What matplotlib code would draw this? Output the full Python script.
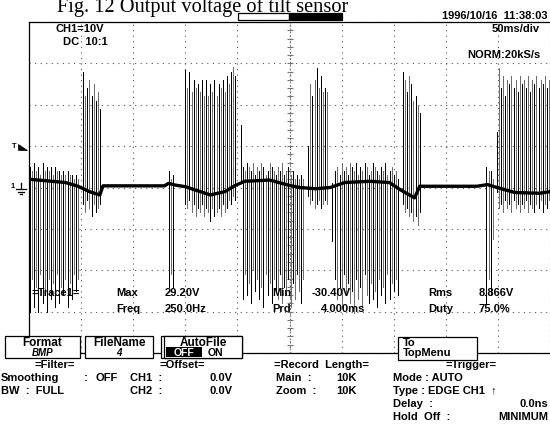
import numpy as np
import matplotlib
matplotlib.use("Agg")
import matplotlib.pyplot as plt
from matplotlib.patches import Rectangle, Polygon
from matplotlib.lines import Line2D

W, H = 550, 434

# trace baseline (ms, V)
base_t = [0, 35, 47, 58, 68, 71, 130, 134, 140, 150, 174, 188, 198, 207, 231,
          250, 260, 275, 289, 303, 327, 346, 356, 370, 375, 430, 440, 449,
          466, 490, 500]
base_v = [2.0, 1.2, 0.3, -1.0, -1.8, 0.4, 0.4, 1.0, 0.6, 0.2, -1.8, -1.0, 0.5,
          1.5, 1.8, 0.5, 0.0, -0.3, 0.0, 1.2, 1.5, 1.2, -0.5, -2.5, 0.3, 0.3,
          0.7, 0.0, -1.2, -1.4, -1.0]

# pulse bursts: start (ms), far end of each pulse line (V), near end (V)
a_start = 1
a_peak = [-30, -22, -29, -24, -30, -21, -28, -25, -30, -22, -27, -23, -29, -21,
          -28, -24, -26, -22, -29, -23, -27, -21, -25, -22]
a_tail = [5, 4, 6, 4, 5, 3, 6, 4, 5, 4, 5, 3, 5, 4, 4, 3, 4, 3, 4, 3, 3, 2, 3, 2]

b_start = 52
b_peak = [28, 22, 24, 26, 22, 25, 21, 23, 19]
b_tail = [-4, -6, -3, -5, -7, -4, -6, -5, -4]

c0_start = 134
c0_peak = [-24, -21, -24]
c0_tail = [4, 2, 3]

c_start = 150
c_peak = [28.5, 24, 28, 23, 26, 24, 25, 23, 26, 22, 26, 22, 25, 23, 26, 22, 25,
          24, 26, 23, 27, 25, 28, 29.2, 27]
c_tail = [-4, -5, -3, -6, -4, -7, -5, -6, -4, -7, -5, -6, -8, -5, -7, -6, -5,
          -7, -4, -6, -5, -3, -4, -2, -3]

c2_start = 203
c2_peak = [15]
c2_tail = [1]

d_start = 205
d_peak = [-27, -21, -26, -23, -28, -20, -25, -22, -27, -24, -29, -21, -26, -23,
          -28, -22, -25, -27, -21, -28, -24, -26, -22, -29, -23, -27, -21, -25,
          -28, -22]
d_tail = [5, 4, 6, 5, 4, 6, 3, 5, 4, 6, 5, 3, 4, 6, 5, 4, 3, 5, 4, 6, 3, 4, 5,
          3, 4, 2, 3, 2, 3, 2]

e_start = 268
e_peak = [10, 25, 22, 26, 29, 24, 27, 23, 24, 23]
e_tail = [-2, -4, -3, -5, -4, -3, -5, -4, -3, -4]

e2_start = 291
e2_peak = [-13]
e2_tail = [1]

f_start = 294
f_peak = [-22, -27, -24, -29, -21, -26, -23, -28, -25, -30.4, -22, -27, -24,
          -29, -21, -26, -28, -23, -27, -25, -29, -22, -26, -24, -28, -21, -27,
          -23, -25, -22, -26]
f_tail = [4, 5, 3, 6, 4, 5, 3, 6, 5, 4, 6, 3, 5, 4, 6, 5, 3, 4, 6, 5, 4, 3, 5,
          4, 6, 3, 4, 5, 3, 4, 2]

g_start = 359
g_peak = [28, 26, 23, 27, 25, 21, 22, 20, 18]
g_tail = [-4, -6, -5, -7, -6, -8, -7, -9, -6]

h_start = 439
h_peak = [-28, -22, -26, -12.5]
h_tail = [5, 4, 4, 2]

i_start = 449
i_peak = [13.5, 29, 24, 27, 22, 26, 25, 27, 24, 26, 23, 27, 25, 26, 24, 27, 23,
          26, 25, 27, 24, 26, 25, 27, 24, 26]
i_tail = [-1, -5, -4, -6, -3, -5, -4, -6, -3, -5, -4, -6, -4, -5, -3, -6, -4,
          -5, -6, -4, -5, -3, -6, -4, -5, -3]

step = 2.0  # ms between pulse edges (Prd 4.000ms)

plt.rcParams['font.family'] = ['Liberation Sans', 'DejaVu Sans']
plt.rcParams['font.weight'] = 'bold'

fig = plt.figure(figsize=(W / 100, H / 100), dpi=100)
fig.patch.set_facecolor('white')


def fx(x):
    return x / W


def fy(y):
    return 1 - y / H


def label(x, y, s, size=8, **kw):
    kw.setdefault('va', 'center')
    return fig.text(fx(x), fy(y), s, fontsize=size, **kw)


def box(x0, y0, x1, y1, fc='white', lw=0.9):
    fig.add_artist(Rectangle((fx(x0), fy(y1)), (x1 - x0) / W, (y1 - y0) / H,
                             transform=fig.transFigure, fc=fc, ec='black', lw=lw))


def seg(xs, ys, lw=0.9):
    fig.add_artist(Line2D([fx(v) for v in xs], [fy(v) for v in ys],
                          transform=fig.transFigure, color='black', lw=lw))


# scope screen: 10 x 8 divisions
ax = fig.add_axes([fx(29), fy(353), (550 - 29) / W, (353 - 22) / H])
ax.set_xlim(0, 500)
ax.set_ylim(-40, 40)
ax.set_xticks(np.arange(0, 501, 50))
ax.set_yticks(np.arange(-40, 41, 10))
ax.tick_params(length=0, labelbottom=False, labelleft=False)
ax.grid(color='#555555', linestyle=(0, (1, 4)), lw=0.8)
for s in ['left', 'top', 'bottom']:
    ax.spines[s].set_linewidth(0.9)
ax.spines['right'].set_visible(False)

# center cross with minor ticks
ax.axvline(250, color='#777777', linestyle=(0, (1.5, 1.5)), lw=0.8)
yt = np.arange(-40, 41, 2)
ax.plot(np.full(len(yt), 250), yt, ls='none', marker='_', ms=5, mew=0.8,
        color='#777777')

bursts = [(a_start, a_peak, a_tail), (b_start, b_peak, b_tail),
          (c0_start, c0_peak, c0_tail), (c_start, c_peak, c_tail),
          (c2_start, c2_peak, c2_tail), (d_start, d_peak, d_tail),
          (e_start, e_peak, e_tail), (e2_start, e2_peak, e2_tail),
          (f_start, f_peak, f_tail), (g_start, g_peak, g_tail),
          (h_start, h_peak, h_tail), (i_start, i_peak, i_tail)]

for start, peak, tail in bursts:
    t = start + step * np.arange(len(peak))
    cols = ['black' if k % 2 == 0 else '#6e6e6e' for k in range(len(peak))]
    ax.vlines(t, tail, peak, colors=cols, lw=0.72, antialiased=False)

ax.plot(base_t, base_v, color='black', lw=2.4, solid_joinstyle='round')

# title (cropped at the top edge)
fig.text(fx(57), fy(12), "Fig. 12 Output voltage of tilt sensor",
         family='Liberation Serif', weight='normal', fontsize=14.7, va='baseline')

# memory bar and timestamp
box(238, 13, 289, 20)
box(289, 13, 342, 20, fc='black')
label(547, 16, "1996/10/16  11:38:03", ha='right')

# screen annotations
label(55, 29, "CH1=10V")
label(63, 42, "DC  10:1")
label(540, 29, "50ms/div", ha='right')
label(540, 55, "NORM:20kS/s", ha='right')

# trigger level and ground markers
label(12, 147, "T", size=5.5)
fig.add_artist(Polygon([(fx(18), fy(144)), (fx(18), fy(150)), (fx(27), fy(150))],
                       closed=True, transform=fig.transFigure, fc='black', ec='black', lw=0.5))
label(11, 187, "1", size=5.5)
seg([21, 21], [183, 189])
seg([16, 26], [189, 189])
seg([18, 24], [191.5, 191.5])
seg([20, 22], [194, 194])

row1, row2 = 293, 309
label(31, row1, "=Trace1=")
label(116, row1, "Max")
label(165, row1, "29.20V")
label(272, row1, "Min")
label(312, row1, "-30.40V")
label(428, row1, "Rms")
label(479, row1, "8.866V")
label(116, row2, "Freq")
label(165, row2, "250.0Hz")
label(272, row2, "Prd")
label(321, row2, "4.000ms")
label(428, row2, "Duty")
label(479, row2, "75.0%")

# soft keys
ky0, ky1 = 336, 358
box(5, ky0, 80, ky1)
label(42.5, 342.5, "Format", size=8.5, ha='center')
label(42.5, 352.5, "BMP", size=7, ha='center', style='italic')
box(85, ky0, 153, ky1)
label(119, 342.5, "FileName", size=8.5, ha='center')
label(119, 352.5, "4", size=7, ha='center', style='italic')
box(161, ky0, 242, ky1)
box(163.5, ky0, 242, ky1)
label(203, 342.5, "AutoFile", size=8.5, ha='center')
box(166, 347, 202, 357, fc='black', lw=0)
label(184, 352.5, "OFF", size=7.5, ha='center', color='white')
label(208, 352.5, "ON", size=7.5)
box(398, 337, 477, 360)
label(403, 343, "To", size=8)
label(403, 353.5, "TopMenu", size=8)

# settings panel
rows = [365, 378, 391, 404, 417]
label(55, rows[0], "=Filter=", ha='center')
label(182, rows[0], "=Offset=", ha='center')
label(322, rows[0], "=Record  Length=", ha='center')
label(471, rows[0], "=Trigger=", ha='center')

label(1, rows[1], "Smoothing")
label(84, rows[1], ":")
label(95, rows[1], "OFF")
label(130, rows[1], "CH1  :")
label(232, rows[1], "0.0V", ha='right')
label(276, rows[1], "Main  :")
label(357, rows[1], "10K", ha='right')
label(393, rows[1], "Mode : AUTO")

label(1, rows[2], "BW  :  FULL")
label(130, rows[2], "CH2  :")
label(232, rows[2], "0.0V", ha='right')
label(276, rows[2], "Zoom  :")
label(357, rows[2], "10K", ha='right')
label(393, rows[2], "Type : EDGE CH1  \u2191")

label(393, rows[3], "Delay  :")
label(548, rows[3], "0.0ns", ha='right')
label(393, rows[4], "Hold  Off  :")
label(548, rows[4], "MINIMUM", ha='right')

fig.savefig("out.png", dpi=100)
